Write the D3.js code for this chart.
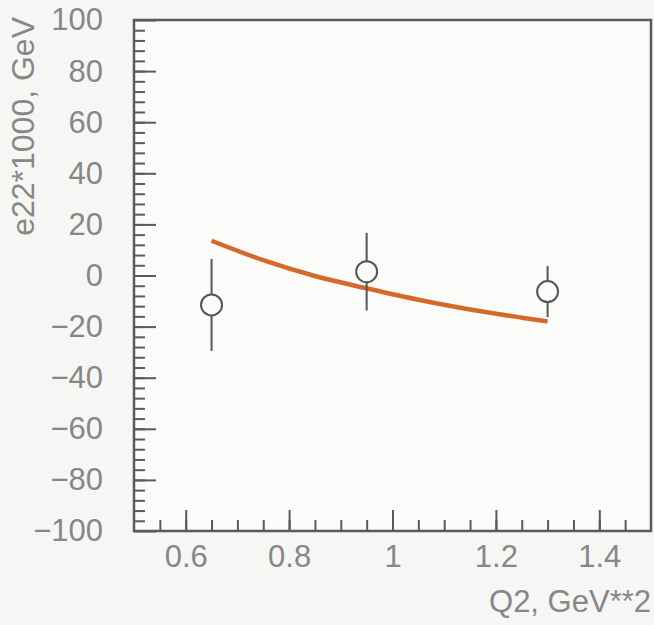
<!DOCTYPE html>
<html>
<head>
<meta charset="utf-8">
<script src="https://cdn.jsdelivr.net/npm/d3@7"></script>
<style>
  body { margin: 0; background: #f6f6f4; }
  svg { display: block; }
  .axis text { font-family: "Liberation Sans", Arial, sans-serif; font-size: 31px; fill: #878787; }
  .axis path { display: none; }
  .axis line { stroke: #5a5a5a; stroke-width: 2; }
</style>
</head>
<body>
<div id="chart"></div>
<script>
// measured points
const q2 = [0.65, 0.95, 1.3];
const e22 = [-11.5, 1.5, -6.3];
const e22Err = [18, 15.2, 10];

// model curve
const curveQ2 = [0.65, 0.75, 0.85, 0.95, 1.05, 1.15, 1.25, 1.3];
const curveE22 = [13.6, 6.0, -0.2, -5.0, -9.5, -13.3, -16.5, -18.0];

const xMajor = [0.6, 0.8, 1, 1.2, 1.4];
const xMinor = d3.range(0.55, 1.5, 0.05).map(d => +d.toFixed(2));
const yMajor = d3.range(-100, 101, 20);
const yMinor = d3.range(-96, 100, 4);

const width = 654, height = 625;
const plotL = 134, plotR = 651, plotT = 20, plotB = 531;

const x = d3.scaleLinear().domain([0.5, 1.5]).range([plotL, plotR]);
const y = d3.scaleLinear().domain([-100, 100]).range([plotB, plotT]);

const svg = d3.select('#chart')
    .append('svg')
    .attr('width', width)
    .attr('height', height);

svg.append('rect')
    .attr('x', plotL)
    .attr('y', plotT)
    .attr('width', plotR - plotL)
    .attr('height', plotB - plotT)
    .attr('fill', '#fbfbfa');

// y axis
svg.append('g')
    .attr('class', 'axis')
    .attr('transform', `translate(${plotL},0)`)
    .call(d3.axisLeft(y).tickValues(yMinor).tickSizeInner(-11).tickSizeOuter(0).tickFormat(''));
svg.append('g')
    .attr('class', 'axis')
    .attr('transform', `translate(${plotL},0)`)
    .call(d3.axisLeft(y).tickValues(yMajor).tickSizeInner(-22).tickSizeOuter(0).tickPadding(31));

// x axis
svg.append('g')
    .attr('class', 'axis')
    .attr('transform', `translate(0,${plotB})`)
    .call(d3.axisBottom(x).tickValues(xMinor).tickSizeInner(-11).tickSizeOuter(0).tickFormat(''));
svg.append('g')
    .attr('class', 'axis')
    .attr('transform', `translate(0,${plotB})`)
    .call(d3.axisBottom(x).tickValues(xMajor).tickSizeInner(-21).tickSizeOuter(0).tickPadding(14).tickFormat(d3.format('')));

svg.append('rect')
    .attr('x', plotL)
    .attr('y', plotT)
    .attr('width', plotR - plotL)
    .attr('height', plotB - plotT)
    .attr('fill', 'none')
    .attr('stroke', '#5a5a5a')
    .attr('stroke-width', 2.5);

// axis titles
svg.append('text')
    .attr('x', plotR)
    .attr('y', 612)
    .attr('text-anchor', 'end')
    .style('font-family', '"Liberation Sans", Arial, sans-serif')
    .style('font-size', '31px')
    .style('fill', '#878787')
    .text('Q2, GeV**2');

svg.append('text')
    .attr('transform', 'translate(34,17) rotate(-90)')
    .attr('text-anchor', 'end')
    .style('font-family', '"Liberation Sans", Arial, sans-serif')
    .style('font-size', '32px')
    .style('fill', '#878787')
    .text('e22*1000, GeV');

// model curve
const line = d3.line()
    .x((d, i) => x(curveQ2[i]))
    .y(d => y(d))
    .curve(d3.curveMonotoneX);

svg.append('path')
    .datum(curveE22)
    .attr('d', line)
    .attr('fill', 'none')
    .attr('stroke', '#d4692a')
    .attr('stroke-width', 4.5);

// data points with error bars
const r = 10.5;
const pts = svg.append('g')
    .selectAll('g')
    .data(q2.map((d, i) => ({q: d, v: e22[i], e: e22Err[i]})))
    .join('g');

pts.append('line')
    .attr('x1', d => x(d.q)).attr('x2', d => x(d.q))
    .attr('y1', d => y(d.v + d.e)).attr('y2', d => y(d.v) - r)
    .attr('stroke', '#555').attr('stroke-width', 2);
pts.append('line')
    .attr('x1', d => x(d.q)).attr('x2', d => x(d.q))
    .attr('y1', d => y(d.v) + r).attr('y2', d => y(d.v - d.e))
    .attr('stroke', '#555').attr('stroke-width', 2);
pts.append('circle')
    .attr('cx', d => x(d.q))
    .attr('cy', d => y(d.v))
    .attr('r', r)
    .attr('fill', 'none')
    .attr('stroke', '#555')
    .attr('stroke-width', 2);
</script>
</body>
</html>
